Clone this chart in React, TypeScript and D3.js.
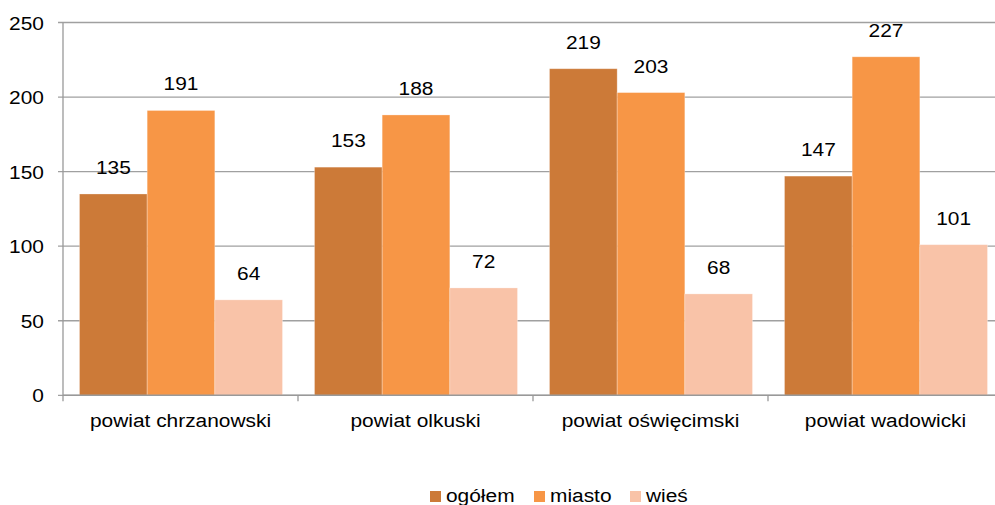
import React from "react";
import * as d3 from "d3";

// Source data: number per powiat, split into total / urban / rural
const categories = ["powiat chrzanowski", "powiat olkuski", "powiat oświęcimski", "powiat wadowicki"];
const seriesNames = ["ogółem", "miasto", "wieś"];
const ogolem = [135, 153, 219, 147];
const miasto = [191, 188, 203, 227];
const wies = [64, 72, 68, 101];
const yTicks = [0, 50, 100, 150, 200, 250];

const colors = ["#CC7A38", "#F79646", "#F9C3A8"];

const W = 995;
const H = 505;
const left = 63;
const right = 1003;
const top = 22.5;
const bottom = 395.3;
const FONT = "'Liberation Sans', Arial, sans-serif";
const FS = 19;
const SX = 1.1; // horizontal text stretch

const seriesValues = [ogolem, miasto, wies];

function T({ x, y, anchor = "middle", children }: { x: number; y: number; anchor?: string; children: React.ReactNode }) {
  return (
    <text
      transform={`translate(${x},${y}) scale(${SX},1)`}
      textAnchor={anchor}
      fontFamily={FONT}
      fontSize={FS}
      fill="#000"
    >
      {children}
    </text>
  );
}

export default function App() {
  const x0 = d3.scaleBand<string>().domain(categories).range([left, right]).padding(0);
  const x1 = d3
    .scaleBand<string>()
    .domain(seriesNames)
    .range([16.5, x0.bandwidth() - 15.5])
    .padding(0);
  const y = d3.scaleLinear().domain([0, 250]).range([bottom, top]);

  const legendX = [430, 534, 630];

  return (
    <svg
      width={W}
      height={H}
      style={{ position: "absolute", left: 0, top: 0, background: "#fff" }}
    >
      {/* gridlines */}
      {yTicks.map((t) => (
        <line key={"g" + t} x1={left - 5} x2={right} y1={y(t)} y2={y(t)} stroke="#A0A0A0" strokeWidth={1.3} />
      ))}
      {/* y tick labels */}
      {yTicks.map((t) => (
        <T key={"yl" + t} x={44} y={y(t) + 7} anchor="end">
          {t}
        </T>
      ))}
      {/* bars */}
      {categories.map((c, ci) => (
        <g key={c} transform={`translate(${x0(c)},0)`}>
          {seriesNames.map((s, si) => {
            const v = seriesValues[si][ci];
            return (
              <rect
                key={s}
                x={x1(s)}
                y={y(v)}
                width={x1.bandwidth()}
                height={y(0) - y(v)}
                fill={colors[si]}
                stroke="#ffffff"
                strokeOpacity={0.35}
                strokeWidth={0.8}
              />
            );
          })}
        </g>
      ))}
      {/* value labels */}
      {categories.map((c, ci) =>
        seriesNames.map((s, si) => {
          const v = seriesValues[si][ci];
          return (
            <T key={c + s} x={(x0(c) as number) + (x1(s) as number) + x1.bandwidth() / 2} y={y(v) - 20}>
              {v}
            </T>
          );
        })
      )}
      {/* axes */}
      <line x1={left} x2={left} y1={top} y2={bottom + 6} stroke="#999" strokeWidth={1.3} />
      <line x1={left} x2={right} y1={bottom} y2={bottom} stroke="#999" strokeWidth={1.5} />
      {categories.map((c) => (
        <line
          key={"t" + c}
          x1={(x0(c) as number) + x0.bandwidth()}
          x2={(x0(c) as number) + x0.bandwidth()}
          y1={bottom}
          y2={bottom + 6}
          stroke="#999"
          strokeWidth={1.3}
        />
      ))}
      {categories.map((c) => (
        <T key={"cl" + c} x={(x0(c) as number) + x0.bandwidth() / 2} y={427}>
          {c}
        </T>
      ))}
      {/* legend */}
      {seriesNames.map((s, i) => (
        <g key={"lg" + s}>
          <rect x={legendX[i]} y={491} width={11} height={11} fill={colors[i]} />
          <T x={legendX[i] + 16} y={502} anchor="start">
            {s}
          </T>
        </g>
      ))}
    </svg>
  );
}
